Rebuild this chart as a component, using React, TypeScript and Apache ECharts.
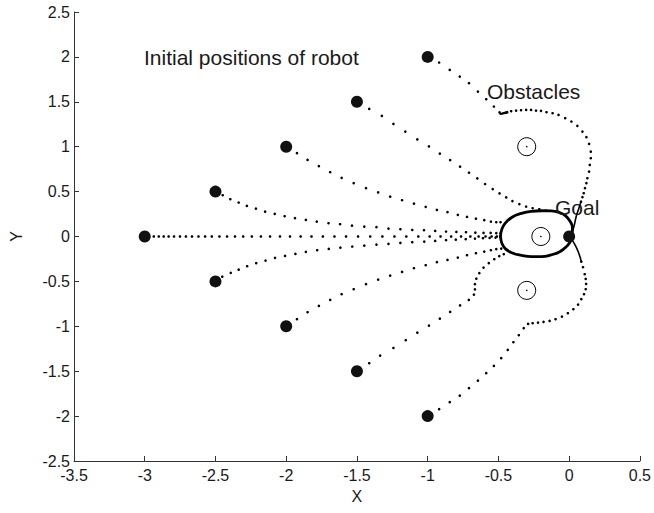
import React, { useEffect, useRef } from "react";
import * as echarts from "echarts";

// Axis ranges and ticks
const xTicks = [-3.5, -3, -2.5, -2, -1.5, -1, -0.5, 0, 0.5];
const yTicks = [-2.5, -2, -1.5, -1, -0.5, 0, 0.5, 1, 1.5, 2, 2.5];

// Robot start positions
const robotStarts: number[][] = [
  [-3, 0], [-2.5, 0.5], [-2.5, -0.5], [-2, 1], [-2, -1],
  [-1.5, 1.5], [-1.5, -1.5], [-1, 2], [-1, -2],
];

// Goal
const goal: number[][] = [[0, 0]];

// Obstacle centres
const obstacles: number[][] = [[-0.3, 1], [-0.2, 0], [-0.3, -0.6]];

// Sampled robot positions along each trajectory
const pathFromM3_0: number[][] = [
  [-2.936, 0], [-2.901, 0], [-2.866, 0], [-2.831, 0], [-2.793, 0], [-2.751, 0],
  [-2.709, 0], [-2.666, 0], [-2.62, 0], [-2.573, 0], [-2.526, 0], [-2.472, 0],
  [-2.418, 0], [-2.362, 0], [-2.304, 0], [-2.243, 0], [-2.179, 0], [-2.114, 0],
  [-2.044, 0], [-1.973, 0], [-1.898, 0], [-1.821, 0], [-1.741, 0], [-1.659, 0],
  [-1.577, 0], [-1.492, 0], [-1.406, 0], [-1.32, 0], [-1.235, 0], [-1.151, 0],
  [-1.066, 0], [-0.986, 0], [-0.909, 0], [-0.834, 0], [-0.764, 0], [-0.698, 0],
  [-0.64, 0], [-0.591, 0], [-0.548, 0], [-0.511, 0], [-0.487, 0],
];

const pathFromM25_05: number[][] = [
  [-2.449, 0.46], [-2.395, 0.415], [-2.336, 0.378], [-2.278, 0.341], [-2.214, 0.311],
  [-2.149, 0.277], [-2.081, 0.252], [-2.011, 0.226], [-1.938, 0.204], [-1.861, 0.185],
  [-1.784, 0.166], [-1.701, 0.148], [-1.619, 0.137], [-1.535, 0.121], [-1.448, 0.11],
  [-1.362, 0.104], [-1.277, 0.088], [-1.193, 0.081], [-1.109, 0.073], [-1.026, 0.07],
  [-0.947, 0.062], [-0.87, 0.055], [-0.797, 0.051], [-0.729, 0.048], [-0.663, 0.043],
  [-0.605, 0.04], [-0.555, 0.04], [-0.515, 0.037], [-0.485, 0.037],
];

const pathFromM25_M05: number[][] = [
  [-2.452, -0.447], [-2.392, -0.405], [-2.336, -0.369], [-2.276, -0.331], [-2.212, -0.297],
  [-2.146, -0.268], [-2.079, -0.238], [-2.008, -0.216], [-1.935, -0.194], [-1.861, -0.171],
  [-1.781, -0.153], [-1.699, -0.138], [-1.617, -0.124], [-1.533, -0.112], [-1.448, -0.101],
  [-1.362, -0.09], [-1.277, -0.082], [-1.193, -0.071], [-1.109, -0.064], [-1.024, -0.057],
  [-0.947, -0.049], [-0.87, -0.041], [-0.801, -0.035], [-0.731, -0.03], [-0.666, -0.023],
  [-0.609, -0.019], [-0.562, -0.016], [-0.52, -0.012],
];

const pathFromM2_1: number[][] = [
  [-1.924, 0.928], [-1.849, 0.853], [-1.769, 0.783], [-1.689, 0.716], [-1.608, 0.653],
  [-1.523, 0.594], [-1.436, 0.538], [-1.35, 0.491], [-1.265, 0.444], [-1.181, 0.404],
  [-1.097, 0.366], [-1.014, 0.33], [-0.935, 0.296], [-0.86, 0.271], [-0.787, 0.241],
  [-0.722, 0.218], [-0.659, 0.199], [-0.6, 0.182], [-0.553, 0.166], [-0.515, 0.159],
  [-0.485, 0.159],
];

const pathFromM2_M1: number[][] = [
  [-1.924, -0.921], [-1.849, -0.843], [-1.769, -0.773], [-1.689, -0.706], [-1.608, -0.643],
  [-1.523, -0.587], [-1.436, -0.531], [-1.35, -0.48], [-1.265, -0.435], [-1.181, -0.394],
  [-1.097, -0.353], [-1.014, -0.32], [-0.935, -0.286], [-0.86, -0.261], [-0.787, -0.235],
  [-0.722, -0.208], [-0.659, -0.186], [-0.6, -0.168], [-0.553, -0.153], [-0.515, -0.141],
  [-0.48, -0.135],
];

const pathFromM15_15: number[][] = [
  [-1.413, 1.421], [-1.324, 1.343], [-1.242, 1.254], [-1.158, 1.168], [-1.073, 1.081],
  [-0.991, 1.003], [-0.914, 0.923], [-0.841, 0.851], [-0.771, 0.778], [-0.708, 0.71],
  [-0.649, 0.647], [-0.594, 0.584], [-0.54, 0.528], [-0.492, 0.48], [-0.445, 0.435],
  [-0.401, 0.394], [-0.352, 0.36], [-0.304, 0.333], [-0.258, 0.315], [-0.211, 0.304],
  [-0.164, 0.288],
];

const pathFromM15_M15: number[][] = [
  [-1.413, -1.411], [-1.336, -1.326], [-1.242, -1.241], [-1.155, -1.155], [-1.073, -1.071],
  [-0.991, -0.992], [-0.914, -0.915], [-0.841, -0.84], [-0.771, -0.767], [-0.709, -0.706],
  [-0.673, -0.647], [-0.666, -0.589], [-0.666, -0.531], [-0.656, -0.47], [-0.635, -0.408],
  [-0.605, -0.346], [-0.568, -0.296], [-0.529, -0.253], [-0.494, -0.219], [-0.462, -0.197],
];

const pathFromM1_2: number[][] = [
  [-0.919, 1.937], [-0.844, 1.855], [-0.773, 1.781], [-0.708, 1.707], [-0.645, 1.614],
  [-0.586, 1.529], [-0.532, 1.447], [-0.492, 1.382], [-0.445, 1.38], [-0.41, 1.395],
  [-0.375, 1.402], [-0.34, 1.406], [-0.304, 1.41], [-0.269, 1.41], [-0.234, 1.402],
  [-0.199, 1.399], [-0.16, 1.384], [-0.117, 1.373], [-0.075, 1.354], [-0.028, 1.317],
  [0.016, 1.28], [0.058, 1.232], [0.094, 1.168], [0.122, 1.106], [0.141, 1.031],
  [0.153, 0.945], [0.153, 0.872], [0.146, 0.797], [0.141, 0.723], [0.129, 0.649],
  [0.122, 0.594], [0.112, 0.538], [0.103, 0.482], [0.094, 0.438], [0.084, 0.389],
];

const pathFromM1_M2: number[][] = [
  [-0.919, -1.923], [-0.844, -1.845], [-0.773, -1.772], [-0.708, -1.689], [-0.645, -1.605],
  [-0.586, -1.522], [-0.532, -1.441], [-0.48, -1.355], [-0.434, -1.263], [-0.394, -1.177],
  [-0.356, -1.099], [-0.321, -1.021], [-0.29, -0.973], [-0.258, -0.966], [-0.22, -0.959],
  [-0.181, -0.951], [-0.138, -0.94], [-0.096, -0.921], [-0.051, -0.892], [-0.009, -0.854],
  [0.03, -0.81], [0.063, -0.758], [0.086, -0.698], [0.105, -0.643], [0.117, -0.587],
  [0.12, -0.528], [0.117, -0.472], [0.11, -0.42], [0.098, -0.342], [0.086, -0.28],
];

// Dense stretches where the samples merge into a solid stroke
const loopAroundCentre: number[][] = [
  [-0.485, 0.001], [-0.475, 0.085], [-0.45, 0.151], [-0.401, 0.218], [-0.337, 0.257],
  [-0.267, 0.28], [-0.197, 0.287], [-0.127, 0.285], [-0.07, 0.268], [-0.025, 0.229],
  [0.007, 0.168], [0.023, 0.096], [0.021, 0.018], [0.011, -0.049], [-0.018, -0.11],
  [-0.063, -0.166], [-0.127, -0.205], [-0.197, -0.224], [-0.267, -0.224], [-0.337, -0.21],
  [-0.401, -0.183], [-0.45, -0.138], [-0.475, -0.077], [-0.485, 0.001],
];
const turnUpper: number[][] = [[-0.492, 1.365], [-0.475, 1.368], [-0.455, 1.376], [-0.43, 1.386]];
const approachUpper: number[][] = [[0.084, 0.389], [0.067, 0.307], [0.049, 0.218], [0.035, 0.118], [0.018, 0.04], [0, 0]];
const approachLower: number[][] = [[0.086, -0.28], [0.07, -0.194], [0.049, -0.116], [0.025, -0.049], [0, 0]];

const trajectories = [
  pathFromM3_0, pathFromM25_05, pathFromM25_M05, pathFromM2_1, pathFromM2_M1,
  pathFromM15_15, pathFromM15_M15, pathFromM1_2, pathFromM1_M2,
];

const FONT = "'Liberation Sans', Arial, Helvetica, sans-serif";
const INK = "#000000";

export default function App() {
  const ref = useRef<HTMLDivElement>(null);

  useEffect(() => {
    document.body.style.margin = "0";
    if (!ref.current) return;
    const chart = echarts.init(ref.current, undefined, { renderer: "svg" });

    const dotSeries = trajectories.map((d) => ({
      type: "scatter",
      data: d,
      symbol: "circle",
      symbolSize: 2.6,
      itemStyle: { color: INK, opacity: 1 },
      silent: true,
      z: 2,
    }));

    const solid = (d: number[][], w: number, smooth: boolean) => ({
      type: "line",
      data: d,
      showSymbol: false,
      smooth,
      lineStyle: { color: INK, width: w, opacity: 1 },
      silent: true,
      z: 3,
    });

    chart.setOption({
      animation: false,
      backgroundColor: "#ffffff",
      grid: { left: 72, right: 13, top: 12, bottom: 52, containLabel: false },
      xAxis: {
        type: "value",
        min: xTicks[0],
        max: xTicks[xTicks.length - 1],
        interval: 0.5,
        name: "X",
        nameLocation: "middle",
        nameGap: 27,
        nameTextStyle: { fontFamily: FONT, fontSize: 16, color: "#1a1a1a" },
        axisLine: { show: true, onZero: false, lineStyle: { color: "#333", width: 1 } },
        axisTick: { show: true, inside: true, length: 5, lineStyle: { color: "#333" } },
        axisLabel: { fontFamily: FONT, fontSize: 16, color: "#1a1a1a", margin: 6 },
        splitLine: { show: false },
      },
      yAxis: {
        type: "value",
        min: yTicks[0],
        max: yTicks[yTicks.length - 1],
        interval: 0.5,
        name: "Y",
        nameLocation: "middle",
        nameGap: 50,
        nameRotate: 90,
        nameTextStyle: { fontFamily: FONT, fontSize: 16, color: "#1a1a1a" },
        axisLine: { show: true, onZero: false, lineStyle: { color: "#333", width: 1 } },
        axisTick: { show: true, inside: true, length: 5, lineStyle: { color: "#333" } },
        axisLabel: { fontFamily: FONT, fontSize: 16, color: "#1a1a1a", margin: 4 },
        splitLine: { show: false },
      },
      series: [
        ...dotSeries,
        solid(loopAroundCentre, 2.8, true),
        solid(turnUpper, 2.4, false),
        solid(approachUpper, 1.6, true),
        solid(approachLower, 1.6, true),
        {
          type: "scatter",
          data: obstacles,
          symbol: "circle",
          symbolSize: 18,
          itemStyle: { color: "rgba(255,255,255,0)", borderColor: INK, borderWidth: 1, opacity: 1 },
          silent: true,
          z: 4,
        },
        {
          type: "scatter",
          data: obstacles,
          symbol: "circle",
          symbolSize: 1.5,
          itemStyle: { color: INK, opacity: 1 },
          silent: true,
          z: 4,
        },
        {
          type: "scatter",
          data: robotStarts,
          symbol: "circle",
          symbolSize: 12,
          itemStyle: { color: "#111", opacity: 1 },
          silent: true,
          z: 5,
        },
        {
          type: "scatter",
          data: goal,
          symbol: "circle",
          symbolSize: 12,
          itemStyle: { color: "#111", opacity: 1 },
          silent: true,
          z: 5,
        },
      ],
      graphic: [
        {
          type: "text",
          x: 144,
          y: 57,
          z: 10,
          style: { text: "Initial positions of robot", font: `21px ${FONT}`, fill: "#1a1a1a", textVerticalAlign: "middle" },
        },
        {
          type: "text",
          x: 487,
          y: 91,
          z: 10,
          style: { text: "Obstacles", font: `21px ${FONT}`, fill: "#1a1a1a", textVerticalAlign: "middle" },
        },
        {
          type: "text",
          x: 555,
          y: 207,
          z: 10,
          style: { text: "Goal", font: `21px ${FONT}`, fill: "#1a1a1a", textVerticalAlign: "middle" },
        },
      ],
    });

    return () => chart.dispose();
  }, []);

  return (
    <div
      ref={ref}
      style={{ position: "fixed", left: 0, top: 0, width: 654, height: 513, background: "#fff" }}
    />
  );
}
